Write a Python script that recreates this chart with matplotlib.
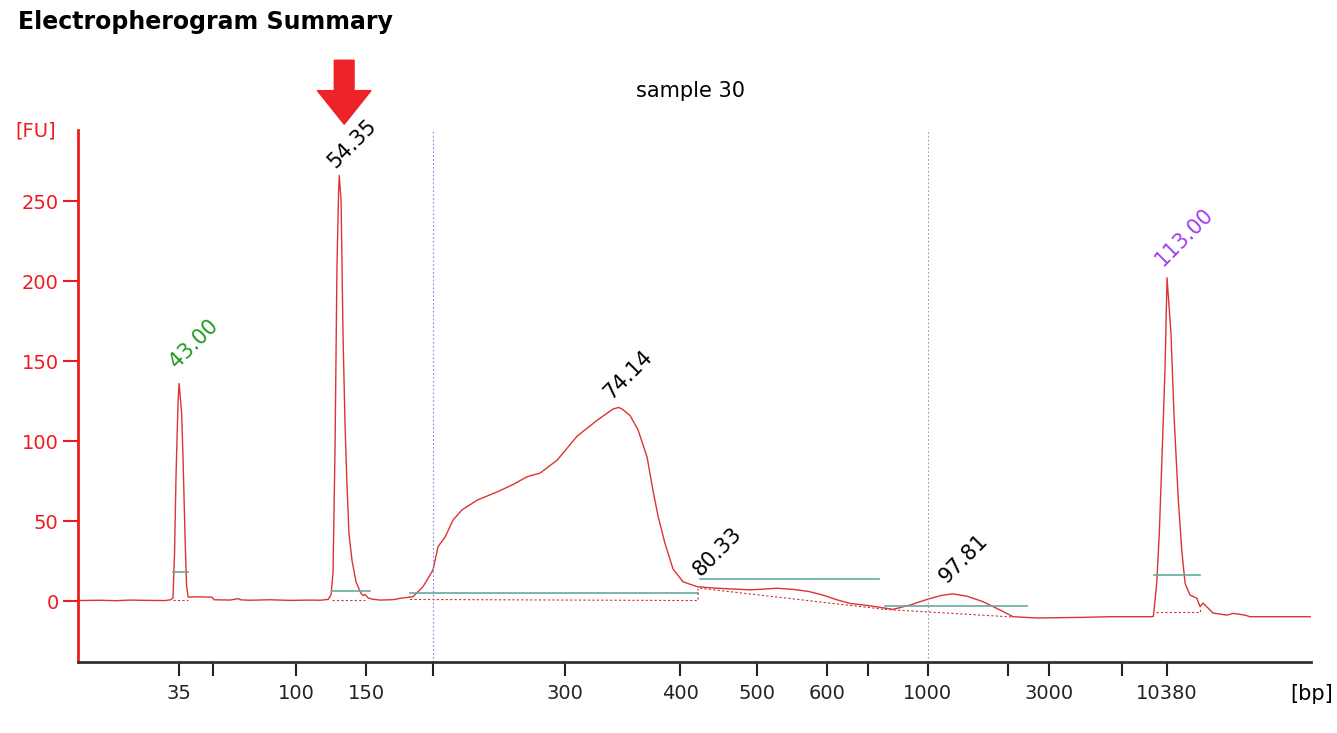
import matplotlib
matplotlib.use('Agg')
import matplotlib.pyplot as plt
from matplotlib.patches import Polygon

# --- trace: migration time [s] vs fluorescence [FU]
time_s = [35.84, 37.4, 38.5, 39.5, 40.95, 42.0, 42.4, 42.57, 42.68, 42.79,
          42.93, 43.0, 43.18, 43.28, 43.43, 43.53, 43.64, 44.49, 45.34, 45.48,
          46.61, 47.2, 47.4, 48.03, 49.45, 50.86, 52.28, 53.0, 53.56, 53.77,
          53.91, 54.05, 54.19, 54.30, 54.35, 54.48, 54.62, 54.76, 54.90, 55.04,
          55.26, 55.54, 55.82, 56.0, 56.18, 56.4, 56.67, 57.24, 58.0, 58.30,
          58.66, 59.58, 60.29, 60.99, 61.35, 61.85, 62.41, 63.05, 64.11, 65.74,
          66.7, 67.66, 68.58, 69.78, 71.20, 72.62, 73.75, 74.14, 74.39, 74.95,
          75.52, 76.16, 76.58, 76.94, 77.43, 78.00, 78.71, 79.70, 80.33, 81.12,
          82.3, 83.46, 84.5, 85.37, 86.50, 87.6, 88.63, 89.6, 90.54, 91.96,
          93.59, 94.79, 95.99, 97.0, 97.81, 98.83, 99.96, 101.17, 102.09, 103.79,
          107.05, 108.96, 111.80, 112.03, 112.27, 112.45, 112.62, 112.86, 113.0, 113.28,
          113.50, 113.80, 114.04, 114.28, 114.63, 115.11, 115.34, 115.55, 116.26, 117.25,
          117.68, 118.53, 118.88, 123.2]
fu = [0.3, 0.5, 0.2, 0.6, 0.4, 0.3, 0.8, 2, 30, 80,
      125, 136, 118, 90, 38, 10, 2.5, 2.6, 2.4, 0.8,
      0.6, 1.5, 0.7, 0.5, 0.8, 0.4, 0.6, 0.5, 1, 4,
      18, 95, 210, 255, 266, 250, 165, 110, 72, 42,
      25, 12, 6, 3.5, 4, 2, 1.2, 0.6, 0.8, 1.0,
      1.7, 2.7, 9, 19.4, 34, 40, 50.6, 57, 63, 69,
      73, 77.7, 80, 88, 103, 113, 120, 121, 120, 116,
      107, 90, 69, 53, 36, 20, 12, 9, 8.5, 8,
      7.5, 7, 7.5, 8, 7.3, 6, 3.7, 0.8, -1.5, -3,
      -5.2, -2.5, 1, 3.5, 4.5, 3, -0.4, -5.6, -9.8, -10.6,
      -10.2, -9.8, -9.8, -9.6, 11, 42, 84, 146, 202, 167,
      115, 63, 32, 11, 3.7, 1.8, -3.5, -1.3, -7.5, -8.8,
      -7.7, -8.8, -9.8, -9.8]

# peak calls: label, time of label, FU of label, colour
peak_labels = ['43.00', '54.35', '74.14', '80.33', '97.81', '113.00']
peak_label_t = [43.07, 54.27, 73.82, 80.13, 97.6, 112.86]
peak_label_fu = [143, 268, 124, 13, 9, 207]
peak_colors = ['#1f9a1f', 'black', 'black', 'black', 'black', '#a040f0']

# peak height lines (teal): level, start, end
level_fu = [18, 6, 5.2, 14, -3, 16]
level_t0 = [42.55, 53.84, 59.37, 79.91, 93.02, 112.08]
level_t1 = [43.66, 56.53, 79.77, 92.6, 103.08, 115.34]

# baselines (dashed red)
base_t = [[42.55, 43.66], [53.84, 56.2], [59.37, 79.77, 79.77], [79.91, 93.0],
          [93.0, 102.1], [112.2, 115.34, 115.34]]
base_fu = [[0.5, 0.5], [0.5, 0.5], [1.0, 0.3, 8], [8, -5.2],
           [-5.2, -10], [-7, -7, -3.5]]

# ladder ticks
tick_t = [43.0, 45.41, 51.29, 56.25, 60.99, 70.35, 78.5, 83.95, 88.91,
          91.82, 96.03, 101.73, 104.67, 109.81, 113.0]
tick_lab = ['35', '', '100', '150', '', '300', '400', '500', '600',
            '', '1000', '', '3000', '', '10380']

fig = plt.figure(figsize=(13.37, 7.33), dpi=100)
ax = fig.add_axes([78/1337, 1-662/733, (1311-78)/1337, (662-130)/733])

ax.plot(time_s, fu, color='#dd3333', lw=1.0)

for y, a, b in zip(level_fu, level_t0, level_t1):
    ax.plot([a, b], [y, y], color='#66aaa0', lw=1.2)
for bt, bf in zip(base_t, base_fu):
    ax.plot(bt, bf, color='#cc3333', lw=0.8, ls=(0, (2, 2)))

ax.axvline(60.99, color='#8888d8', lw=0.8, ls=(0, (1.5, 2)))
ax.axvline(96.03, color='#9a9ab0', lw=0.8, ls=(0, (1.5, 2)))

for lab, t, y, c in zip(peak_labels, peak_label_t, peak_label_fu, peak_colors):
    ax.text(t, y, lab, color=c, fontsize=15, rotation=45,
            rotation_mode='anchor', ha='left', va='bottom')

ax.set_xlim(35.84, 123.2)
ax.set_ylim(-38.1, 294.4)
ax.set_yticks([0, 50, 100, 150, 200, 250])
ax.set_xticks(tick_t)
ax.set_xticklabels(tick_lab)

for s in ['top', 'right']:
    ax.spines[s].set_visible(False)
ax.spines['left'].set_color('#ee1c1c')
ax.spines['left'].set_linewidth(2)
ax.spines['bottom'].set_color('#333333')
ax.spines['bottom'].set_linewidth(2)
ax.tick_params(axis='y', colors='#ee1c1c', labelsize=14, length=11, width=1.5, pad=3)
ax.tick_params(axis='x', colors='#222222', labelsize=14, length=10, width=1.5, pad=6)

# red arrow over the 54.35 peak
arrow = Polygon([(54.0, 338), (55.4, 338), (55.4, 319), (56.6, 319),
                 (54.7, 298), (52.8, 319), (54.0, 319)],
                closed=True, color='#ee2229', clip_on=False)
ax.add_patch(arrow)

fig.text(18/1337, 1-22/733, 'Electropherogram Summary', fontsize=17,
         fontweight='bold', ha='left', va='center')
fig.text(691/1337, 1-91/733, 'sample 30', fontsize=15, ha='center', va='center')
fig.text(36/1337, 1-131/733, '[FU]', fontsize=14, color='#ee1c1c',
         ha='center', va='center')
fig.text(1312/1337, 1-694/733, '[bp]', fontsize=15, ha='center', va='center')

fig.savefig('out.png', dpi=100)
